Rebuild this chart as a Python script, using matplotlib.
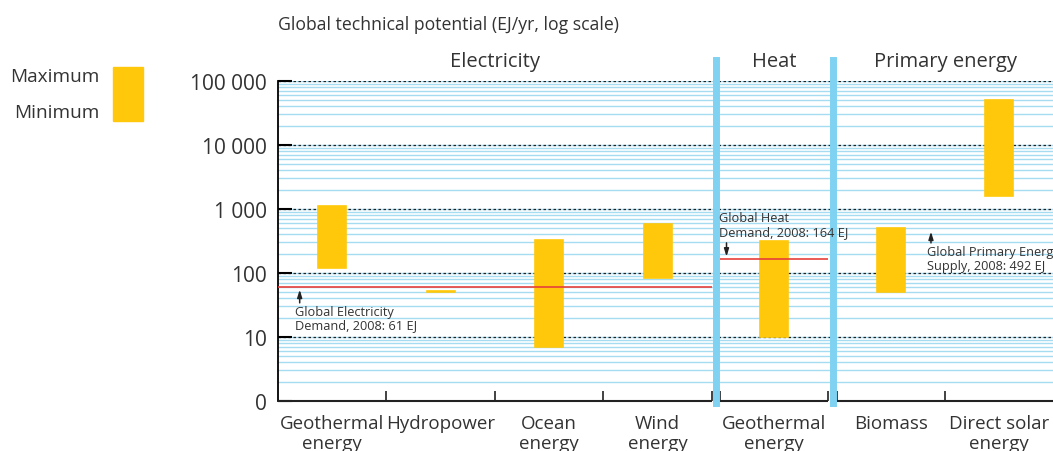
import numpy as np
import matplotlib.pyplot as plt
from matplotlib.ticker import LogLocator, FixedLocator, NullFormatter

# technical potential ranges, EJ/yr
categories = ["Geothermal\nenergy", "Hydropower", "Ocean\nenergy", "Wind\nenergy",
              "Geothermal\nenergy", "Biomass", "Direct solar\nenergy"]
pot_min = [118, 50, 7, 85, 10, 50, 1575]
pot_max = [1109, 52, 331, 580, 312, 500, 49837]

groups = ["Electricity", "Heat", "Primary energy"]
group_sizes = [4, 1, 2]

# global demand / supply 2008, EJ
elec_demand = 61
heat_demand = 164
primary_supply = 492

ytick_vals = [1, 10, 100, 1000, 10000, 100000]
ytick_labels = ["0", "10", "100", "1 000", "10 000", "100 000"]

gold = "#FFC80B"
sep_blue = "#7FD2F2"
grid_blue = "#A5DCF2"
red = "#E8403A"
txt = "#333333"

plt.rcParams['font.family'] = ['Open Sans', 'DejaVu Sans']

fig = plt.figure(figsize=(10.53, 4.52), dpi=100)
ax = fig.add_axes([0.264, 0.1106, 0.736, 0.708])
ax.set_yscale('log')
ax.set_ylim(1, 1e5)

# x layout: groups of unit-wide categories with a small gap between groups
gap = 0.075
starts = []
pos = 0.0
for n in group_sizes:
    starts.append(pos)
    pos += n + gap
xmax = starts[-1] + group_sizes[-1] - 0.005
ax.set_xlim(0, xmax)

centers = []
for s, n in zip(starts, group_sizes):
    for i in range(n):
        centers.append(s + i + 0.5)

# grid
ax.yaxis.set_minor_locator(LogLocator(base=10, subs=np.arange(2, 10)))
ax.yaxis.set_minor_formatter(NullFormatter())
ax.yaxis.set_major_locator(FixedLocator(ytick_vals))
ax.set_yticklabels(ytick_labels)
ax.grid(which='minor', axis='y', color=grid_blue, lw=1.0, zorder=0)
for v in ytick_vals[1:]:
    ax.axhline(v, color=grid_blue, lw=1.0, zorder=0)
    ax.axhline(v, color='#222222', lw=0.9, ls=(0, (2, 2)), zorder=1)
ax.tick_params(axis='y', which='major', direction='in', length=10, width=1.5,
               labelsize=15, colors='black', labelcolor=txt, pad=8)
ax.tick_params(axis='y', which='minor', length=0)
ax.tick_params(axis='x', length=0, labelsize=13.5, labelcolor=txt, pad=9)

# bars
bw = 0.26
ax.bar(centers, np.array(pot_max) - np.array(pot_min), bottom=pot_min,
       width=bw, color=gold, edgecolor=gold, lw=1.2, zorder=3)

# demand lines
ax.hlines(elec_demand, 0, starts[0] + group_sizes[0], color=red, lw=1.2, zorder=4)
ax.hlines(heat_demand, starts[1], starts[1] + group_sizes[1], color=red, lw=1.2, zorder=4)

# spines and per-group bottom axis
for s in ['top', 'right', 'bottom']:
    ax.spines[s].set_visible(False)
ax.spines['left'].set_linewidth(1.3)
for s, n in zip(starts, group_sizes):
    ax.hlines(1, s, s + n, color='#222222', lw=1.5, clip_on=False, zorder=5)
    for i in range(n + 1):
        if s + i > 0:
            ax.vlines(s + i, 1, 1.43, color='#222222', lw=1.2, clip_on=False, zorder=5)

# group separators
for s in starts[1:]:
    ax.axvline(s - gap / 2, ymin=-0.005, ymax=1.066, color=sep_blue, lw=5,
               clip_on=False, zorder=6)

ax.set_xticks(centers)
ax.set_xticklabels(categories, linespacing=1.2, va='top')

# group titles
for s, n, g in zip(starts, group_sizes, groups):
    ax.text(s + n / 2, 1.062, g, transform=ax.get_xaxis_transform(),
            ha='center', va='center', fontsize=14.5, color=txt)

fig.text(0.264, 1 - 25 / 452, "Global technical potential (EJ/yr, log scale)",
         ha='left', va='center', fontsize=12.7, color=txt)

# annotations
arrow = dict(arrowstyle='-|>,head_length=0.45,head_width=0.14',
             color='#222222', lw=1.1, shrinkA=0, shrinkB=0)
ax.annotate("", xy=(0.2, elec_demand * 0.9), xytext=(0.2, elec_demand * 0.56),
            arrowprops=arrow)
ax.text(0.16, elec_demand * 0.52, "Global Electricity\nDemand, 2008: 61 EJ",
        ha='left', va='top', fontsize=9.2, color=txt, linespacing=1.05)

ax.annotate("", xy=(starts[1] + 0.06, heat_demand * 1.1),
            xytext=(starts[1] + 0.06, heat_demand * 1.8),
            arrowprops=arrow)
ax.text(starts[1] - 0.01, heat_demand * 2.15, "Global Heat\nDemand, 2008: 164 EJ",
        ha='left', va='bottom', fontsize=9.2, color=txt, linespacing=1.05, zorder=7)

ax.annotate("", xy=(starts[2] + 0.87, primary_supply * 0.9),
            xytext=(starts[2] + 0.87, primary_supply * 0.6),
            arrowprops=arrow)
ax.text(starts[2] + 0.83, primary_supply * 0.55, "Global Primary Energy\nSupply, 2008: 492 EJ",
        ha='left', va='top', fontsize=9.2, color=txt, linespacing=1.05)

# legend key
fig.patches.append(plt.Rectangle((113 / 1053, 1 - 122 / 452), 30 / 1053, 54 / 452,
                                 transform=fig.transFigure, color=gold))
fig.text(99 / 1053, 1 - 77 / 452, "Maximum", ha='right', va='center', fontsize=13.7, color=txt)
fig.text(99 / 1053, 1 - 113 / 452, "Minimum", ha='right', va='center', fontsize=13.7, color=txt)

fig.savefig("out.png", dpi=100)
